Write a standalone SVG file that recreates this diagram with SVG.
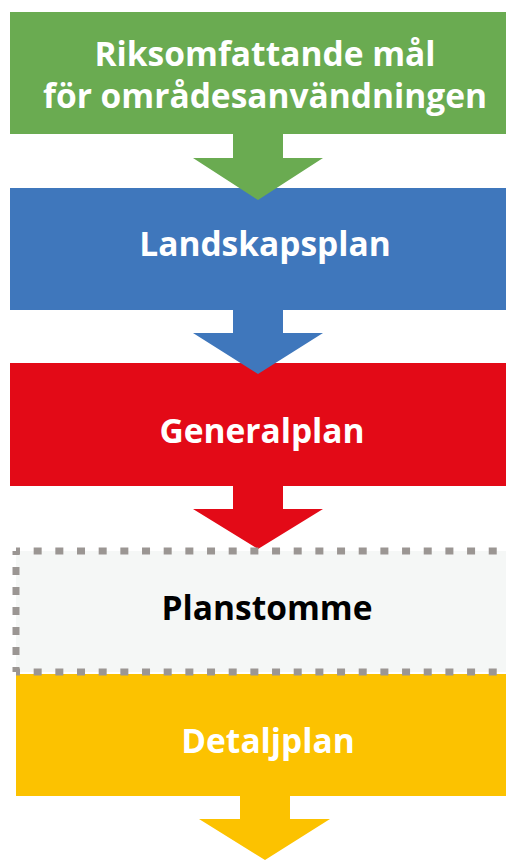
<svg xmlns="http://www.w3.org/2000/svg" width="506" height="860" viewBox="0 0 506 860">
<style>
.t{font-family:"Open Sans","Noto Sans","Liberation Sans",sans-serif;font-weight:bold;font-size:33.5px;text-anchor:middle}
.w{fill:#ffffff}
.k{fill:#000000}
.dash{fill:none;stroke:#9B9693;stroke-width:7}
</style>
<rect width="506" height="860" fill="#ffffff"/>
<g id="node-riks">
<rect x="10" y="12" width="510" height="122" fill="#6AAB51"/>
<text class="t w" x="265" y="66">Riksomfattande mål</text>
<text class="t w" x="265" y="108">för områdesanvändningen</text>
</g>
<g id="node-landskapsplan">
<rect x="10" y="188" width="510" height="122" fill="#3F77BC"/>
<text class="t w" x="265" y="256">Landskapsplan</text>
</g>
<g id="node-generalplan">
<rect x="10" y="363" width="510" height="123" fill="#E30A17"/>
<text class="t w" x="262" y="443">Generalplan</text>
</g>
<g id="connectors">
<polygon points="233,133 283,133 283,158 323,158 258,200 193,158 233,158" fill="#6AAB51"/>
<polygon points="233,309 283,309 283,333 323,333 258,374 193,333 233,333" fill="#3F77BC"/>
<polygon points="233,485 283,485 283,509 323,509 258,549 193,509 233,509" fill="#E30A17"/>
<polygon points="240,795 290,795 290,819 330,819 265,860 199,819 240,819" fill="#FCC200"/>
</g>
<g id="node-detaljplan">
<rect x="16" y="674" width="504" height="122" fill="#FCC200"/>
<text class="t w" x="268" y="753">Detaljplan</text>
</g>
<g id="node-planstomme">
<rect x="16" y="551" width="504" height="121" fill="#F5F7F6"/>
<path class="dash" d="M16,551 H520 M16,672 H520" stroke-dasharray="8 13.67" stroke-dashoffset="4"/>
<path class="dash" d="M16,551 V672" stroke-dasharray="8 12" stroke-dashoffset="4"/>
<text class="t k" x="267" y="620">Planstomme</text>
</g>
</svg>
